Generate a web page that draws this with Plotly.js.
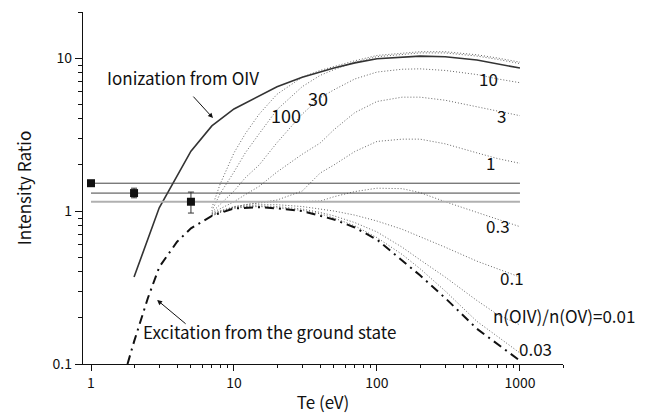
<!DOCTYPE html>
<html>
<head>
<meta charset="utf-8">
<script src="https://cdn.plot.ly/plotly-3.0.1.min.js"></script>
<style>html,body{margin:0;padding:0;background:#fff;}#chart{width:656px;height:416px;}</style>
</head>
<body>
<div id="chart"></div>
<script>
// ---- data ----
const ionT = [2, 3, 5, 7, 10, 20, 30, 50, 70, 100, 200, 300, 500, 700, 1000];
const ionR = [0.37, 1.05, 2.46, 3.6, 4.65, 6.5, 7.5, 8.6, 9.3, 9.9, 10.3, 10.2, 9.7, 9.2, 8.6];

const excT = [1.8, 2, 2.5, 3, 4, 5, 7, 10, 15, 20, 30, 50, 70, 100, 200, 300, 500, 700, 1000];
const excR = [0.1, 0.14, 0.27, 0.43, 0.63, 0.77, 0.93, 1.04, 1.06, 1.04, 1.0, 0.88, 0.78, 0.65, 0.38, 0.27, 0.17, 0.135, 0.105];

const mixT = [7, 8, 10, 12, 15, 20, 30, 40, 50, 70, 100, 150, 200, 300, 500, 700, 1000];
const ratioLabels = ['0.01', '0.03', '0.1', '0.3', '1', '3', '10', '30', '100'];
const mix001 = [0.93, 0.98, 1.04, 1.06, 1.07, 1.05, 1.01, 0.96, 0.9, 0.8, 0.67, 0.52, 0.42, 0.3, 0.19, 0.15, 0.118];
const mix003 = [0.93, 0.98, 1.05, 1.07, 1.08, 1.07, 1.03, 0.98, 0.93, 0.84, 0.73, 0.58, 0.48, 0.37, 0.26, 0.21, 0.18];
const mix01  = [0.94, 0.99, 1.06, 1.08, 1.1, 1.1, 1.07, 1.03, 1.0, 0.94, 0.86, 0.76, 0.68, 0.58, 0.47, 0.42, 0.37];
const mix03  = [0.95, 1.0, 1.07, 1.1, 1.13, 1.15, 1.15, 1.16, 1.24, 1.34, 1.41, 1.4, 1.32, 1.15, 0.98, 0.88, 0.79];
const mix1   = [0.96, 1.0, 1.06, 1.1, 1.13, 1.18, 1.35, 1.77, 2.0, 2.45, 2.85, 2.95, 2.95, 2.75, 2.4, 2.2, 2.05];
const mix3   = [0.97, 1.03, 1.15, 1.28, 1.45, 1.8, 2.35, 2.78, 3.4, 4.4, 5.2, 5.55, 5.55, 5.3, 4.8, 4.5, 4.2];
const mix10  = [0.98, 1.1, 1.35, 1.65, 2.0, 2.8, 4.3, 5.5, 6.2, 7.3, 8.1, 8.45, 8.5, 8.3, 7.8, 7.3, 6.9];
const mix30  = [1.0, 1.3, 1.8, 2.4, 3.2, 4.6, 6.5, 7.7, 8.4, 9.4, 10.2, 10.6, 10.8, 10.8, 10.3, 9.8, 9.2];
const mix100 = [1.05, 1.5, 2.4, 3.2, 4.3, 5.8, 7.5, 8.3, 8.8, 9.6, 10.4, 10.8, 11.0, 11.0, 10.5, 10.0, 9.4];
const mixSeries = [mix001, mix003, mix01, mix03, mix1, mix3, mix10, mix30, mix100];

const measT = [1, 2, 5];
const measR = [1.52, 1.31, 1.15];
const measErrUp = [0.0, 0.10, 0.18];
const measErrDown = [0.0, 0.09, 0.18];
const refLineEnd = 1000;

const xTickVals = [1, 10, 100, 1000];
const xTickText = ['1', '10', '100', '1000'];
const yTickVals = [0.1, 1, 10];
const yTickText = ['0.1', '1', '10'];
const xMinor = [2,3,4,5,6,7,8,9,20,30,40,50,60,70,80,90,200,300,400,500,600,700,800,900,2000];
const yMinor = [0.2,0.3,0.4,0.5,0.6,0.7,0.8,0.9,2,3,4,5,6,7,8,9,20];

// ---- traces ----
const traces = [];
mixSeries.forEach((s, i) => {
  traces.push({x: mixT, y: s, mode: 'lines', name: ratioLabels[i],
    line: {color: '#666', width: 1, dash: '1px,2px'}, hoverinfo: 'skip'});
});
traces.push({x: ionT, y: ionR, mode: 'lines', name: 'Ionization from OIV',
  line: {color: '#333', width: 1.6}});
traces.push({x: excT, y: excR, mode: 'lines', name: 'Excitation',
  line: {color: '#111', width: 2, dash: '9px,5px,2px,5px'}});
const hColors = ['#444', '#444', '#b0b0b0'];
const hWidths = [1, 1, 2];
measR.forEach((v, i) => {
  traces.push({x: [measT[0], refLineEnd], y: [v, v], mode: 'lines',
    line: {color: hColors[i], width: hWidths[i]}, hoverinfo: 'skip'});
});
traces.push({x: measT, y: measR, mode: 'markers',
  marker: {symbol: 'square', size: 8, color: '#111'},
  error_y: {type: 'data', symmetric: false, array: measErrUp, arrayminus: measErrDown,
    color: '#333', thickness: 1, width: 3}});

const L = Math.log10;
const fontFam = '"Noto Sans CJK JP", "Noto Sans", sans-serif';
function lab(text, x, y, size) {
  return {text: text, x: L(x), y: L(y), xref: 'x', yref: 'y', showarrow: false,
    font: {size: size || 17, color: '#111', family: fontFam}};
}
const annotations = [
  lab('Ionization from OIV', 4.4, 7.5, 17),
  {x: L(7.13), y: L(4.05), xref: 'x', yref: 'y', showarrow: true, arrowhead: 2, arrowsize: 1,
    arrowwidth: 1, arrowcolor: '#111', ax: -21, ay: -23, text: ''},
  Object.assign(lab('Excitation from the ground state', 2.24, 0.164, 17), {xanchor: 'left'}),
  {x: L(2.9), y: L(0.262), xref: 'x', yref: 'y', showarrow: true, arrowhead: 2, arrowsize: 1,
    arrowwidth: 1, arrowcolor: '#111', ax: 30, ay: 25, text: ''},
  lab('100', 23.1, 4.24, 18),
  lab('30', 38.6, 5.48, 18),
  lab('10', 607, 7.4),
  lab('3', 748, 4.24),
  lab('1', 627, 2.09),
  lab('0.3', 702, 0.81),
  lab('0.1', 879, 0.365),
  Object.assign(lab('n(OIV)/n(OV)=0.01', 630, 0.209, 17), {xanchor: 'left'}),
  lab('0.03', 1294, 0.127)
];

const layout = {
  width: 656, height: 416,
  margin: {l: 83, r: 93, t: 12, b: 52},
  paper_bgcolor: '#fff', plot_bgcolor: '#fff',
  showlegend: false,
  font: {family: fontFam, color: '#111', size: 14},
  xaxis: {type: 'log', range: [-0.056, 3.301], showline: true, linecolor: '#111', linewidth: 1.2,
    ticks: 'outside', ticklen: 6, tickwidth: 1, tickcolor: '#111',
    tickvals: xTickVals, ticktext: xTickText, showgrid: false, zeroline: false,
    tickfont: {size: 14},
    minor: {tickvals: xMinor, ticks: 'outside', ticklen: 3, tickcolor: '#111', showgrid: false},
    title: {text: 'Te (eV)', font: {size: 17}, standoff: 6}},
  yaxis: {type: 'log', range: [-1, 1.301], showline: true, linecolor: '#111', linewidth: 1.2,
    ticks: 'outside', ticklen: 7, tickwidth: 1, tickcolor: '#111',
    tickvals: yTickVals, ticktext: yTickText, showgrid: false, zeroline: false,
    tickfont: {size: 14},
    minor: {tickvals: yMinor, ticks: 'outside', ticklen: 4, tickcolor: '#111', showgrid: false},
    title: {text: 'Intensity Ratio', font: {size: 17}, standoff: 16}},
  annotations: annotations
};

Plotly.newPlot('chart', traces, layout, {displayModeBar: false, staticPlot: true});
</script>
</body>
</html>
